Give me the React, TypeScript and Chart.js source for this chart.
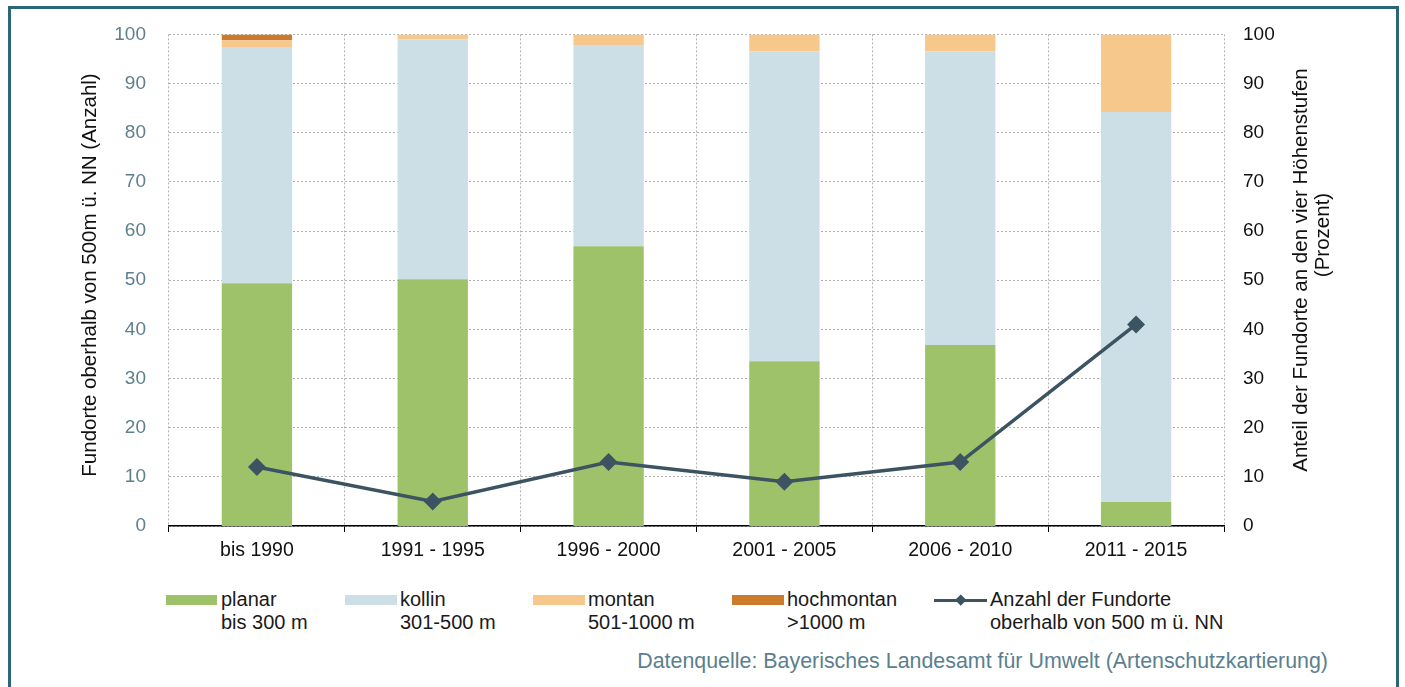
import React, { useEffect, useRef } from "react";
import { Chart, registerables } from "chart.js";

Chart.register(...registerables);

const categories = ["bis 1990", "1991 - 1995", "1996 - 2000", "2001 - 2005", "2006 - 2010", "2011 - 2015"];
const planar = [49.4, 50.2, 56.9, 33.5, 36.8, 4.9];
const kollin = [47.9, 48.8, 40.8, 63.0, 59.7, 79.3];
const montan = [1.5, 1.0, 2.3, 3.5, 3.5, 15.8];
const hochmontan = [1.2, 0, 0, 0, 0, 0];
const anzahl = [12, 5, 13, 9, 13, 41];
const yTicksMax = 100;
const yTicksStep = 10;

const leftTitle = "Fundorte oberhalb von 500m ü. NN (Anzahl)";
const rightTitle = ["Anteil der Fundorte an den vier Höhenstufen", "(Prozent)"];

const FONT = "'Liberation Sans', Arial, Helvetica, sans-serif";
const C_PLANAR = "#9dc26a";
const C_KOLLIN = "#cddfe6";
const C_MONTAN = "#f6c88c";
const C_HOCH = "#cc7b2c";
const C_LINE = "#3c5461";
const C_TICKL = "#5d7f8f";
const C_GRID = "#b0b0b0";

const titlesPlugin = {
  id: "axisTitles",
  afterDraw(chart: any) {
    const ctx = chart.ctx;
    const draw = (text: string, x: number, y: number) => {
      ctx.save();
      ctx.font = `20.5px ${FONT}`;
      ctx.fillStyle = "#111";
      ctx.textAlign = "center";
      ctx.textBaseline = "middle";
      ctx.translate(x, y);
      ctx.rotate(-Math.PI / 2);
      ctx.fillText(text, 0, 0);
      ctx.restore();
    };
    draw(leftTitle, 90, 275);
    draw(rightTitle[0], 1301, 270);
    draw(rightTitle[1], 1323, 235);
  },
};

function ChartCanvas() {
  const ref = useRef<HTMLCanvasElement | null>(null);
  useEffect(() => {
    if (!ref.current) return;
    const chart = new Chart(ref.current, {
      type: "bar",
      data: {
        labels: categories,
        datasets: [
          {
            type: "line",
            label: "Anzahl der Fundorte oberhalb von 500 m ü. NN",
            data: anzahl,
            yAxisID: "y",
            borderColor: C_LINE,
            backgroundColor: C_LINE,
            borderWidth: 3.5,
            pointStyle: "rectRot",
            pointRadius: 6.5,
            pointBackgroundColor: C_LINE,
            pointBorderColor: C_LINE,
            tension: 0,
            order: 0,
          } as any,
          { label: "planar", data: planar, backgroundColor: C_PLANAR, yAxisID: "y1", order: 1 },
          { label: "kollin", data: kollin, backgroundColor: C_KOLLIN, yAxisID: "y1", order: 1 },
          { label: "montan", data: montan, backgroundColor: C_MONTAN, yAxisID: "y1", order: 1 },
          { label: "hochmontan", data: hochmontan, backgroundColor: C_HOCH, yAxisID: "y1", order: 1 },
        ],
      },
      options: {
        animation: false,
        responsive: true,
        maintainAspectRatio: false,
        devicePixelRatio: 1,
        layout: { padding: { left: 0, right: 0, top: 34, bottom: 14 } },
        datasets: { bar: { barPercentage: 0.4, categoryPercentage: 1 } },
        plugins: { legend: { display: false }, tooltip: { enabled: false }, title: { display: false } },
        scales: {
          x: {
            stacked: true,
            afterFit: (s: any) => { s.height = 40; },
            grid: {
              display: true,
              offset: true,
              color: C_GRID,
              drawTicks: true,
              tickLength: 6,
              tickColor: "#000",
              tickBorderDash: [],
              tickWidth: 1,
            } as any,
            border: { display: true, color: "#000", width: 1.5, dash: [2, 2] } as any,
            ticks: { color: "#111", font: { family: FONT, size: 19.5 }, padding: 7, maxRotation: 0 },
          },
          y: {
            position: "left",
            min: 0,
            max: yTicksMax,
            afterFit: (s: any) => { s.width = 169; },
            grid: { display: true, color: C_GRID, drawTicks: false },
            border: { display: false, dash: [2, 2] } as any,
            ticks: { stepSize: yTicksStep, color: C_TICKL, font: { family: FONT, size: 19 }, padding: 23 },
          },
          y1: {
            position: "right",
            stacked: true,
            min: 0,
            max: yTicksMax,
            afterFit: (s: any) => { s.width = 181; },
            grid: { display: false, drawTicks: false },
            border: { display: false },
            ticks: { stepSize: yTicksStep, color: "#111", font: { family: FONT, size: 19 }, padding: 19 },
          },
        },
      },
      plugins: [titlesPlugin],
    });
    return () => chart.destroy();
  }, []);
  return <canvas ref={ref} />;
}

const legendItems = [
  { x: 166, w: 51, tx: 221, color: C_PLANAR, l1: "planar", l2: "bis 300 m", line: false },
  { x: 345, w: 52, tx: 400, color: C_KOLLIN, l1: "kollin", l2: "301-500 m", line: false },
  { x: 533, w: 52, tx: 588, color: C_MONTAN, l1: "montan", l2: "501-1000 m", line: false },
  { x: 732, w: 52, tx: 787, color: C_HOCH, l1: "hochmontan", l2: ">1000 m", line: false },
  { x: 934, w: 53, tx: 990, color: C_LINE, l1: "Anzahl der Fundorte", l2: "oberhalb von 500 m ü. NN", line: true },
];

export default function App() {
  return (
    <div style={{ position: "absolute", left: 0, top: 0, width: 1405, height: 687, overflow: "hidden", background: "#fff", fontFamily: FONT }}>
      <div style={{ position: "absolute", left: 8, top: 6, width: 1385, height: 720, border: "3px solid #2c6478" }} />
      <div style={{ position: "absolute", left: 0, top: 0, width: 1405, height: 580 }}>
        <ChartCanvas />
      </div>
      {legendItems.map((it, i) => (
        <div key={i}>
          {it.line ? (
            <div style={{ position: "absolute", left: it.x, top: 595, width: it.w, height: 10 }}>
              <div style={{ position: "absolute", left: 0, top: 3.5, width: it.w, height: 3.5, background: it.color }} />
              <div style={{ position: "absolute", left: 23, top: 1, width: 7.5, height: 7.5, background: it.color, transform: "rotate(45deg)" }} />
            </div>
          ) : (
            <div style={{ position: "absolute", left: it.x, top: 595, width: it.w, height: 10, background: it.color }} />
          )}
          <div style={{ position: "absolute", left: it.tx, top: 588, fontSize: 20, lineHeight: "23px", color: "#1a1a1a", whiteSpace: "nowrap" }}>
            {it.l1}
            <br />
            {it.l2}
          </div>
        </div>
      ))}
      <div style={{ position: "absolute", right: 1405 - 1328, top: 648, fontSize: 21.4, lineHeight: "26px", color: "#5b7f8e", whiteSpace: "nowrap" }}>
        Datenquelle: Bayerisches Landesamt für Umwelt (Artenschutzkartierung)
      </div>
    </div>
  );
}
